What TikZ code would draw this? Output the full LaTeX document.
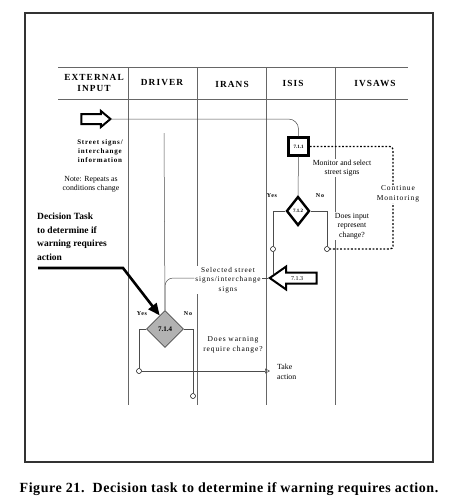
\documentclass[tikz,border=0pt]{standalone}
\usepackage{fontspec}
\setmainfont{Liberation Serif}
\usepackage{tikz}
\usetikzlibrary{
    shapes.geometric,
    shapes.arrows,
    arrows.meta,
    positioning,
    calc
}
\newcommand{\wide}{\addfontfeatures{LetterSpace=12}}
\tikzstyle{arrow} = [
    -{Triangle[open, length=5pt, width=5pt]}
]

\begin{document}
\begin{tikzpicture}[
  x=1pt, y=-1pt,
  lane/.style={draw=black!60, line width=0.5pt},
  hdr/.style={font=\fontsize{9.3}{11}\selectfont\bfseries\wide, align=center},
  note/.style={font=\fontsize{7.8}{9.3}\selectfont, align=center, fill=white, inner sep=1pt},
  boldnote/.style={font=\fontsize{7}{9.2}\selectfont\bfseries\wide, align=center, inner sep=1pt},
  task/.style={draw, line width=2.4pt, fill=white, minimum width=20pt, minimum height=18pt,
    inner sep=0pt, font=\fontsize{5}{6}\selectfont\bfseries},
  decide/.style={diamond, draw, line width=2.4pt, fill=white, inner sep=0pt,
    minimum width=23pt, minimum height=29pt, font=\fontsize{5}{6}\selectfont\bfseries},
  pick/.style={circle, draw, fill=white, inner sep=0pt, minimum size=5pt, line width=0.5pt},
  yn/.style={font=\fontsize{6}{7}\selectfont\bfseries\wide, inner sep=1pt},
  link/.style={draw=black!70, line width=0.5pt},
  dotline/.style={line width=1.3pt, dash pattern=on 1.8pt off 1.8pt},
  hollow/.style={single arrow, draw, line width=2pt, fill=white}
]
\useasboundingbox (0,0) rectangle (460,504);

% frame and swim lanes
\draw[line width=1.2pt, black!80] (25,13) rectangle (433,462);
\draw[lane, line width=0.7pt] (58,67) -- (408,67);
\draw[lane, line width=0.7pt] (58,99) -- (408,99);
\foreach \x in {128,197,266,335}
  \draw[lane] (\x,67) -- (\x,405);

\node[hdr] (hext) at (94,83) {EXTERNAL\\INPUT};
\node[hdr] (hdrv) at (162,83) {DRIVER};
\node[hdr] (hirn) at (232,84) {IRANS};
\node[hdr] (hisi) at (293,83) {ISIS};
\node[hdr] (hivs) at (375,83) {IVSAWS};

% external input
\node[hollow, inner sep=0pt, text height=8pt, text depth=0pt, text width=0pt,
  minimum height=29pt, single arrow head extend=3pt, single arrow tip angle=80,
  anchor=tip] (inarr) at (112,119) {};
\node[boldnote] (street) at (100,151) {Street signs/\\interchange\\information};
\node[note] (repeat) at (91,184) {Note: Repeats as\\conditions change};

% ISIS tasks
\node[task] (a711) at (298.5,146.5) {7.1.1};
\node[decide] (d712) at (298,211) {7.1.2};
\node[pick] (c712y) at (273,249) {};
\node[pick] (c712n) at (327,249) {};
\node[hollow, shape border rotate=180, inner xsep=2pt, inner ysep=1.5pt,
  text height=5pt, text depth=1pt, minimum height=47pt,
  single arrow head extend=6pt, single arrow tip angle=70,
  font=\fontsize{6}{7}\selectfont, anchor=tip] (a713) at (268,278) {7.1.3};
\coordinate (yesend) at (273,274);
\coordinate (dotse) at (393,249);

\node[yn] (y712) at (272,196) {Yes};
\node[yn] (n712) at (320,196) {No};

\draw[link, rounded corners=10pt] (inarr.tip) -| (a711.north);
\draw[link] (a711.south) -- (d712.north);
\draw[link] (d712.west) -| (c712y.north);
\draw[link] (c712y.south) -- (yesend);
\draw[link] (d712.east) -| (c712n.north);
\draw[dotline, rounded corners=3pt] (a711.east) -| (dotse) -- (c712n.east);

\node[note] (mon) at (342,168) {Monitor and select\\street signs};
\node[note, font=\fontsize{7.5}{9.5}\selectfont\wide] (cont) at (398,194) {Continue\\Monitoring};
\node[note] (doesin) at (352,226) {Does input\\represent\\change?};

% driver decision
\coordinate (drvtop) at (164,133);
\node[decide, line width=0.6pt, draw=black!70, fill=black!30, minimum width=37pt,
  minimum height=37pt, font=\fontsize{7}{8}\selectfont\bfseries] (d714) at (165,329) {7.1.4};
\node[pick] (c714y) at (139,371) {};
\node[pick] (c714n) at (193,396) {};
\node[note, font=\fontsize{7.3}{9.3}\selectfont\wide] (sel) at (228,280)
  {Selected street\\signs/interchange\\signs};
\node[note, font=\fontsize{7.5}{10}\selectfont\wide] (doesw) at (233,345)
  {Does warning\\require change?};
\node[note, align=left, font=\fontsize{7.8}{10.5}\selectfont, anchor=west, inner xsep=7pt]
  (act) at (270,372) {Take\\action};
\node[yn] (y714) at (142,314) {Yes};
\node[yn] (n714) at (188,314) {No};

\draw[link] (a713.tip) -- (a713.tip -| sel.east);
\draw[link, rounded corners=8pt] (sel.west |- a713.tip) -| (d714.north);
\draw[link] (drvtop) -- (d714.north);
\draw[link] (d714.west) -| (c714y.north);
\draw[link, arrow] (c714y.east) -- (c714y.east -| act.west);
\draw[link] (d714.east) -| (c714n.north);

% call-out
\node[align=left, anchor=north west, inner sep=1pt,
  font=\fontsize{9.5}{13.5}\selectfont\bfseries] (dtask) at (36,212)
  {Decision Task\\to determine if\\warning requires\\action};
\coordinate (ulL) at (38,268);
\coordinate (ulR) at (123,268);
\coordinate (hit) at ($(d714.north)!0.28!(d714.west)$);
\draw[line width=2.6pt, -{Triangle[length=12pt, width=10pt]}] (ulL) -- (ulR) -- (hit);

\node[font=\fontsize{14}{16}\selectfont\bfseries\addfontfeatures{LetterSpace=4}] (cap) at (229,489)
  {Figure 21.\ \ Decision task to determine if warning requires action.};
\end{tikzpicture}
\end{document}
